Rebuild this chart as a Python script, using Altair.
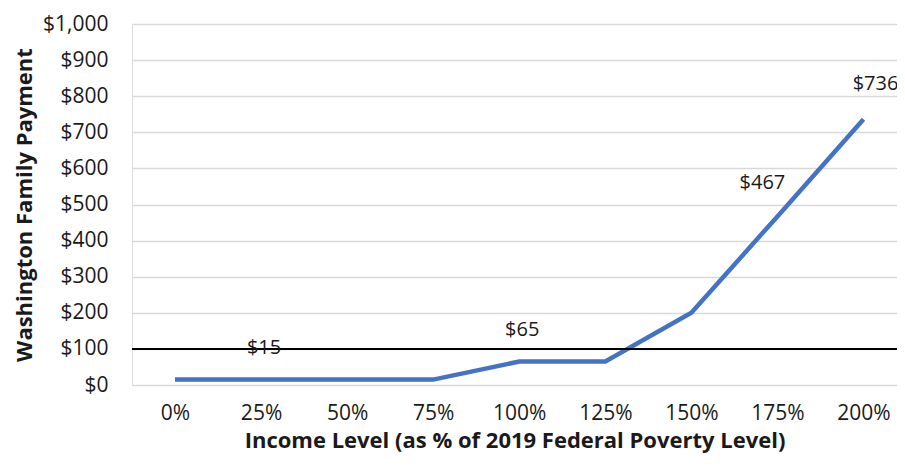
import altair as alt
import pandas as pd

income_pct = [0, 25, 50, 75, 100, 125, 150, 175, 200]
payment = [15, 15, 15, 15, 65, 65, 200, 467, 736]

# data labels, grouped by how they sit relative to their point
label_a_pct = [25, 100]
label_a_val = [15, 65]
label_b_pct = [175]
label_b_val = [467]
label_c_pct = [200]
label_c_val = [736]

threshold = [100]
y_ticks = [0, 100, 200, 300, 400, 500, 600, 700, 800, 900, 1000]

df = pd.DataFrame({"pct": income_pct, "pay": payment})


def lab_df(p, v):
    return pd.DataFrame({"pct": p, "pay": v, "txt": [f"${x}" for x in v]})


thr = pd.DataFrame({"pay": threshold})

FONT = "Open Sans"
INK = "#1a1a1a"

x_scale = alt.Scale(domain=[-12.49, 209.73], nice=False, zero=False)
y_scale = alt.Scale(domain=[0, 1000], nice=False)

x_axis = alt.Axis(
    values=income_pct,
    labelExpr="datum.value + '%'",
    title="Income Level (as % of 2019 Federal Poverty Level)",
    grid=False,
    domain=False,
    ticks=False,
    tickSize=0,
    labelOverlap=False,
    labelPadding=17,
    labelFontSize=21,
    labelFont=FONT,
    labelColor=INK,
    titleFont=FONT,
    titleFontSize=22,
    titleFontWeight="bold",
    titleColor=INK,
    titlePadding=7,
)
y_axis = alt.Axis(
    values=y_ticks,
    format="$,.0f",
    title="Washington Family Payment",
    grid=True,
    gridColor="#d9d9d9",
    gridWidth=1.5,
    domain=False,
    ticks=False,
    tickSize=0,
    labelOverlap=False,
    labelPadding=24,
    labelFontSize=21,
    labelFont=FONT,
    labelColor=INK,
    titleFont=FONT,
    titleFontSize=22,
    titleFontWeight="bold",
    titleColor=INK,
    titlePadding=6,
)

base_x = alt.X("pct:Q", scale=x_scale, axis=x_axis)
base_y = alt.Y("pay:Q", scale=y_scale, axis=y_axis)

line = alt.Chart(df).mark_line(color="#4472C4", strokeWidth=4.5, strokeJoin="miter").encode(x=base_x, y=base_y)

rule = alt.Chart(thr).mark_rule(color="black", strokeWidth=2).encode(y=base_y)

text_a = alt.Chart(lab_df(label_a_pct, label_a_val)).mark_text(dy=-32, dx=3, fontSize=20, font=FONT, color=INK).encode(
    x=base_x, y=base_y, text="txt:N"
)
text_b = alt.Chart(lab_df(label_b_pct, label_b_val)).mark_text(dy=-33, dx=-15, fontSize=20, font=FONT, color=INK).encode(
    x=base_x, y=base_y, text="txt:N"
)
text_c = alt.Chart(lab_df(label_c_pct, label_c_val)).mark_text(dy=-35, dx=12, fontSize=20, font=FONT, color=INK).encode(
    x=base_x, y=base_y, text="txt:N"
)

chart = (
    alt.layer(line, rule, text_a, text_b, text_c)
    .properties(
        width=765,
        height=361,
        autosize=alt.AutoSizeParams(type="none"),
        padding={"left": 124, "top": 16, "right": 0, "bottom": 68},
    )
    .configure_view(stroke=None)
    .configure(background="white")
)

chart.save("out.html", embed_options={"renderer": "svg", "actions": False})
